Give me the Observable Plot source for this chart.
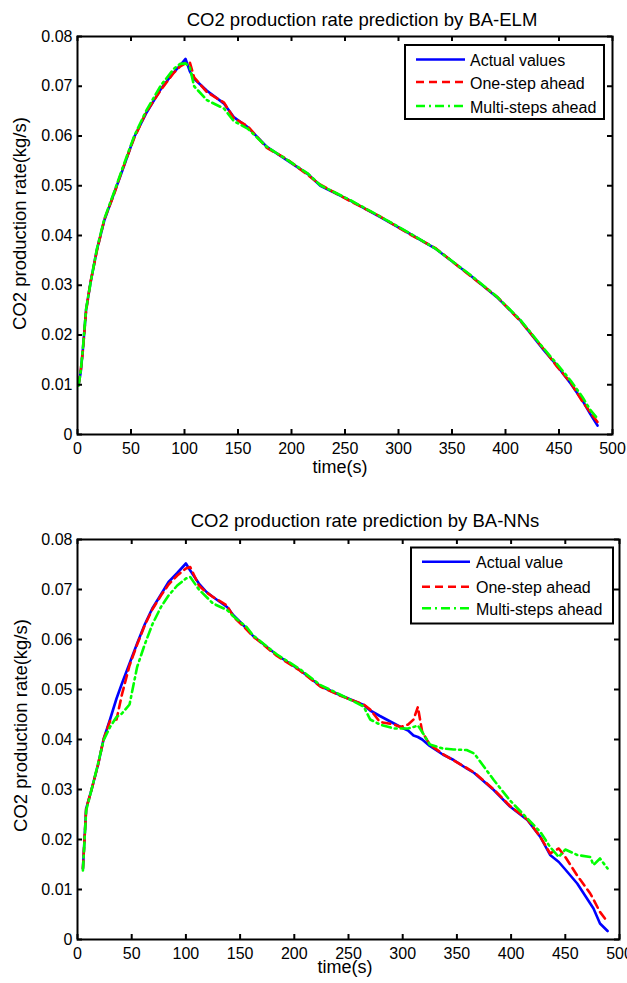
<!DOCTYPE html>
<html><head><meta charset="utf-8">
<script src="https://cdn.jsdelivr.net/npm/d3@7"></script>
<script src="https://cdn.jsdelivr.net/npm/@observablehq/plot@0.6"></script>
<style>
body{margin:0;background:#fff;}
#root{position:relative;width:627px;height:983px;font-family:"Liberation Sans",Arial,sans-serif;}
.panel{position:absolute;left:0;}
#overlay{position:absolute;left:0;top:0;}
</style></head><body><div id="root"></div>
<script>
const ticksX = [0,50,100,150,200,250,300,350,400,450,500];
const ticksY = [0,0.01,0.02,0.03,0.04,0.05,0.06,0.07,0.08];
const titles = ["CO2 production rate prediction by BA-ELM","CO2 production rate prediction by BA-NNs"];
const xLabel = "time(s)";
const yLabel = "CO2 production rate(kg/s)";
const legendNames1 = ["Actual values","One-step ahead","Multi-steps ahead"];
const legendNames2 = ["Actual value","One-step ahead","Multi-steps ahead"];
const colors = ["#0000ff","#ff0000","#00ff00"];
const dashes = [undefined,"8,5","9,4,2,4"];

// Panel 1: BA-ELM
const elmTime = [1,3,5,8,12,18,25,34,42,53,64,78,90,96,101,105,109,121,137,146,159,177,196,215,227,255,283,311,335,367,392,414,436,448,461,472,479,486];
const elmActual = [0.0100,0.0125,0.0170,0.0250,0.0303,0.0370,0.0430,0.0484,0.0531,0.0598,0.0645,0.0695,0.0728,0.0742,0.0755,0.0730,0.0715,0.0691,0.0665,0.0638,0.0618,0.0578,0.0551,0.0524,0.0500,0.0470,0.0437,0.0403,0.0373,0.0320,0.0276,0.0229,0.0169,0.0139,0.0102,0.0068,0.0042,0.0018];
const elmOneStep = [0.0100,0.0128,0.0168,0.0248,0.0305,0.0368,0.0432,0.0482,0.0533,0.0596,0.0647,0.0693,0.0727,0.0740,0.0746,0.0748,0.0718,0.0688,0.0667,0.0636,0.0620,0.0576,0.0553,0.0522,0.0502,0.0469,0.0438,0.0402,0.0374,0.0319,0.0277,0.0228,0.0171,0.0137,0.0104,0.0066,0.0045,0.0025];
const elmMulti = [0.0098,0.0127,0.0172,0.0252,0.0302,0.0372,0.0433,0.0486,0.0535,0.0600,0.0650,0.0702,0.0735,0.0745,0.0746,0.0738,0.0700,0.0672,0.0655,0.0630,0.0615,0.0578,0.0552,0.0525,0.0501,0.0471,0.0438,0.0404,0.0373,0.0321,0.0277,0.0230,0.0172,0.0142,0.0108,0.0075,0.0050,0.0032];

// Panel 2: BA-NNs
const nnTime = [5,8,13,19,24,30,36,41,48,55,62,69,77,84,92,100,104,112,119,125,138,144,156,162,169,184,205,224,242,264,270,279,292,298,305,310,314,318,325,337,347,359,366,384,399,415,427,436,444,450,461,473,476,482,489];
const nnActual = [0.0142,0.0262,0.0300,0.0350,0.0400,0.0440,0.0482,0.0512,0.0552,0.0592,0.0630,0.0662,0.0690,0.0715,0.0733,0.0752,0.0738,0.0712,0.0695,0.0685,0.0665,0.0648,0.0622,0.0607,0.0595,0.0569,0.0539,0.0507,0.0489,0.0469,0.0458,0.0447,0.0432,0.0425,0.0418,0.0408,0.0405,0.0400,0.0387,0.0370,0.0359,0.0342,0.0333,0.0299,0.0266,0.0239,0.0205,0.0169,0.0155,0.0140,0.0112,0.0072,0.0062,0.0032,0.0017];
const nnOneStep = [0.0142,0.0262,0.0300,0.0350,0.0400,0.0437,0.0440,0.0490,0.0548,0.0590,0.0628,0.0660,0.0688,0.0710,0.0728,0.0742,0.0745,0.0708,0.0694,0.0685,0.0668,0.0645,0.0620,0.0606,0.0594,0.0567,0.0538,0.0506,0.0488,0.0470,0.0460,0.0435,0.0430,0.0425,0.0430,0.0440,0.0465,0.0415,0.0390,0.0371,0.0358,0.0343,0.0334,0.0300,0.0267,0.0240,0.0205,0.0172,0.0182,0.0165,0.0128,0.0092,0.0080,0.0055,0.0035];
const nnMulti = [0.0138,0.0258,0.0300,0.0352,0.0398,0.0425,0.0445,0.0452,0.0470,0.0545,0.0590,0.0630,0.0665,0.0688,0.0708,0.0722,0.0725,0.0700,0.0685,0.0672,0.0659,0.0646,0.0625,0.0608,0.0596,0.0570,0.0541,0.0509,0.0490,0.0466,0.0440,0.0430,0.0422,0.0422,0.0422,0.0425,0.0428,0.0415,0.0390,0.0382,0.0380,0.0379,0.0372,0.0319,0.0278,0.0242,0.0215,0.0185,0.0165,0.0180,0.0169,0.0165,0.0149,0.0162,0.0142];

const FONT = '"Liberation Sans", Arial, sans-serif';
const fmtY = d => d === 0 ? "0" : d.toFixed(2);
const TL = 5; // inward tick length in px

function panel(time, series, height, mt, mb, ml, mr) {
  const fh = height - mt - mb, fw = 627 - ml - mr;
  return Plot.plot({
    width: 627, height, marginTop: mt, marginBottom: mb, marginLeft: ml, marginRight: mr,
    style: {fontFamily: FONT, fontSize: "16px", background: "white", color: "black", overflow: "visible"},
    x: {domain: [0, 500]},
    y: {domain: [0, 0.08]},
    marks: [
      ...series.map((s, i) => Plot.line(time, {x: time, y: s, stroke: colors[i], strokeWidth: 2.6, strokeDasharray: dashes[i]})),
      Plot.axisX({anchor: "bottom", ticks: ticksX, tickSize: 0, tickPadding: 8, label: null, fontSize: 16}),
      Plot.axisY({anchor: "left", ticks: ticksY, tickSize: 0, tickPadding: 5, tickFormat: fmtY, label: null, fontSize: 16}),
      // inward ticks on all four sides
      Plot.ruleX(ticksX, {x: d => d, insetTop: fh - TL, stroke: "black", strokeWidth: 2}),
      Plot.ruleX(ticksX, {x: d => d, insetBottom: fh - TL, stroke: "black", strokeWidth: 2}),
      Plot.ruleY(ticksY, {y: d => d, insetRight: fw - TL, stroke: "black", strokeWidth: 2}),
      Plot.ruleY(ticksY, {y: d => d, insetLeft: fw - TL, stroke: "black", strokeWidth: 2}),
      Plot.frame({stroke: "black", strokeWidth: 2})
    ]
  });
}

const root = document.getElementById("root");
const p1 = panel(elmTime, [elmActual, elmOneStep, elmMulti], 490, 36, 56, 77, 15);
p1.classList.add("panel"); p1.style.top = "0px";
root.appendChild(p1);
const p2 = panel(nnTime, [nnActual, nnOneStep, nnMulti], 493, 49, 44, 77, 8);
p2.classList.add("panel"); p2.style.top = "490px";
root.appendChild(p2);

// Overlay: titles, axis labels, legends
const ov = d3.select(root).append("svg").attr("id", "overlay")
  .attr("width", 627).attr("height", 983)
  .style("font-family", FONT);

const texts = [
  {t: titles[0], x: 362, y: 26, size: 18.5},
  {t: titles[1], x: 365, y: 527, size: 18.5},
  {t: xLabel, x: 340, y: 473, size: 18},
  {t: xLabel, x: 345, y: 973, size: 18}
];
texts.forEach(d => ov.append("text").attr("x", d.x).attr("y", d.y)
  .attr("text-anchor", "middle").attr("font-size", d.size).attr("fill", "black").text(d.t));
[[26, 223.5], [27, 725.5]].forEach(([x, y]) => ov.append("text")
  .attr("transform", `translate(${x},${y}) rotate(-90)`)
  .attr("text-anchor", "middle").attr("font-size", 18.5).attr("fill", "black").text(yLabel));

function legend(box, lx1, lx2, tx, rows, names) {
  const g = ov.append("g");
  g.append("rect").attr("x", box[0]).attr("y", box[1]).attr("width", box[2]).attr("height", box[3])
    .attr("fill", "white").attr("stroke", "black").attr("stroke-width", 2);
  names.forEach((n, i) => {
    g.append("line").attr("x1", lx1).attr("x2", lx2).attr("y1", rows[i]).attr("y2", rows[i])
      .attr("stroke", colors[i]).attr("stroke-width", 2.6)
      .attr("stroke-dasharray", dashes[i] || null);
    g.append("text").attr("x", tx).attr("y", rows[i] + 6.5).attr("font-size", 16).attr("fill", "black").text(n);
  });
}
legend([405, 45, 199, 74], 416, 465, 470, [59.5, 82, 106], legendNames1);
legend([411, 547.5, 202, 76], 422, 470, 476, [561.7, 586.7, 608.3], legendNames2);
</script></body></html>
